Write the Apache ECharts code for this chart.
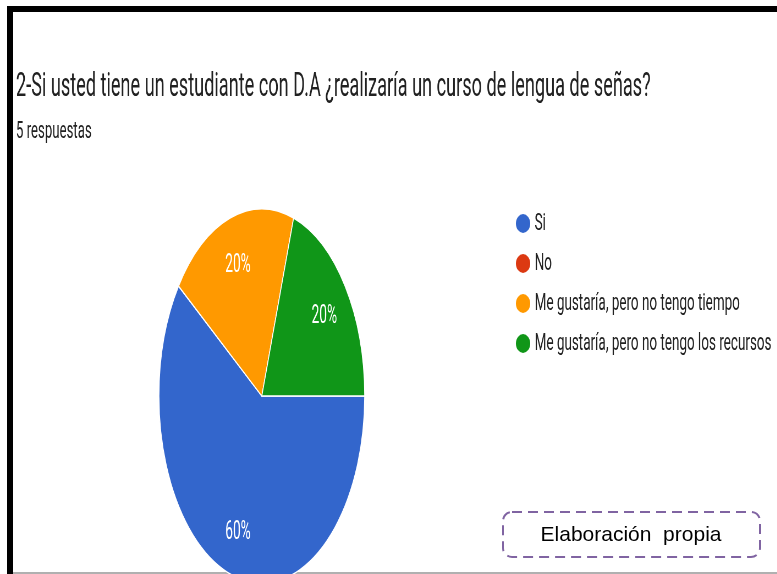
<!DOCTYPE html>
<html>
<head>
<meta charset="utf-8">
<script src="https://cdn.jsdelivr.net/npm/echarts@6/dist/echarts.min.js"></script>
<style>
    html, body { margin: 0; padding: 0; background: #fff; }
    #wrap { position: relative; width: 777px; height: 574px; overflow: hidden; }
    #frame { position: absolute; left: 0; top: 0; width: 777px; height: 574px; }
    #pieChart { position: absolute; left: 0; top: 0; height: 574px; transform-origin: 0 0; }
</style>
</head>
<body>
<div id="wrap">
    <div id="frame"></div>
    <div id="pieChart"></div>
</div>
<script>
// datos de la encuesta
const titleText = '2-Si usted tiene un estudiante con D.A ¿realizaría un curso de lengua de señas?'
const subText = '5 respuestas'
const categories = ['Si', 'No', 'Me gustaría, pero no tengo tiempo', 'Me gustaría, pero no tengo los recursos']
const counts = [3, 0, 1, 1]
const colors = ['#3366cc', '#dc3912', '#ff9900', '#109618']
const noteText = 'Elaboración  propia'

// la captura original esta comprimida en horizontal
const squeeze = 0.55
const wideWidth = Math.round(777 / squeeze)

const pieDom = document.getElementById('pieChart')
pieDom.style.width = wideWidth + 'px'
pieDom.style.transform = 'scaleX(' + squeeze + ')'

const pieData = categories.map((name, i) => ({
    name: name,
    value: counts[i],
    itemStyle: { color: colors[i] }
}))

const frameChart = echarts.init(document.getElementById('frame'))
frameChart.setOption({
    animation: false,
    graphic: [
        { type: 'rect', shape: { x: 7, y: 6, width: 770, height: 6 }, style: { fill: '#000' } },
        { type: 'rect', shape: { x: 7, y: 6, width: 6, height: 568 }, style: { fill: '#000' } },
        { type: 'rect', shape: { x: 13, y: 572, width: 764, height: 2 }, style: { fill: '#b0b0b0' } },
        {
            type: 'rect',
            shape: { x: 503, y: 512, width: 257, height: 45, r: 9 },
            style: { fill: 'none', stroke: '#8064a2', lineWidth: 2, lineDash: [10, 6] }
        },
        {
            type: 'text',
            x: 631, y: 535,
            style: {
                text: noteText,
                fill: '#000',
                font: '21px "Liberation Sans", Arial, sans-serif',
                align: 'center',
                verticalAlign: 'middle'
            }
        }
    ]
})

const pieChart = echarts.init(pieDom)
pieChart.setOption({
    animation: false,
    backgroundColor: 'transparent',
    title: {
        text: titleText,
        subtext: subText,
        left: 24,
        top: 66,
        itemGap: 16,
        textStyle: { fontFamily: 'Roboto', fontSize: 33, fontWeight: 'normal', color: '#212121' },
        subtextStyle: { fontFamily: 'Roboto', fontSize: 24, color: '#212121' }
    },
    legend: {
        orient: 'vertical',
        left: 931,
        top: 206,
        itemWidth: 28,
        itemHeight: 21,
        itemGap: 15,
        icon: 'path://M0,1a1,1 0 1,0 2,0a1,1 0 1,0 -2,0z',
        symbolKeepAspect: false,
        data: categories,
        textStyle: { fontFamily: 'Roboto', fontSize: 24.5, color: '#222', padding: [0, 0, 0, 2] }
    },
    series: [
        {
            type: 'pie',
            center: [476, 396],
            radius: 187,
            startAngle: 0,
            clockwise: true,
            silent: true,
            data: pieData,
            label: { show: false },
            labelLine: { show: false },
            itemStyle: { borderColor: '#fff', borderWidth: 1.5 },
            emphasis: { disabled: true }
        },
        {
            // serie auxiliar solo para poner las etiquetas a 3/4 del radio
            type: 'pie',
            center: [476, 396],
            radius: [88, 187],
            startAngle: 0,
            clockwise: true,
            silent: true,
            data: pieData.map(d => ({ name: d.name, value: d.value, itemStyle: { color: 'rgba(0,0,0,0)' } })),
            label: {
                show: true,
                position: 'inside',
                fontFamily: 'Roboto',
                fontSize: 25,
                color: '#fff',
                offset: [0, 3],
                formatter: p => (p.value ? Math.round(p.percent) + '%' : '')
            },
            labelLine: { show: false },
            emphasis: { disabled: true }
        }
    ]
})
</script>
</body>
</html>
